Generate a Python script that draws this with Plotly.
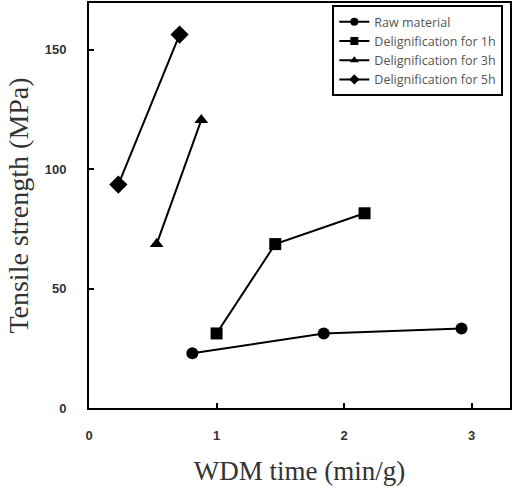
import plotly.graph_objects as go

series_names = ["Raw material", "Delignification for 1h", "Delignification for 3h", "Delignification for 5h"]
raw_x = [0.81, 1.84, 2.92]
raw_y = [22.9, 31.2, 33.3]
d1_x = [1.00, 1.46, 2.16]
d1_y = [31.2, 68.6, 81.5]
d3_x = [0.53, 0.88]
d3_y = [68.6, 120.5]
d5_x = [0.23, 0.71]
d5_y = [93.5, 156.3]
x_ticks = [0, 1, 2, 3]
y_ticks = [0, 50, 100, 150]

symbols = ["circle", "square", "triangle-up", "diamond"]
sizes = [12, 12, 12, 14]
data = [(raw_x, raw_y), (d1_x, d1_y), (d3_x, d3_y), (d5_x, d5_y)]

fig = go.Figure()
for name, (xs, ys), sym, sz in zip(series_names, data, symbols, sizes):
    fig.add_trace(go.Scatter(
        x=xs, y=ys, mode="lines+markers", name=name, showlegend=False,
        line=dict(color="black", width=2),
        marker=dict(symbol=sym, size=sz, color="black"),
    ))
# legend entries with the smaller symbols used in the reference's key
for name, sym in zip(series_names, symbols):
    fig.add_trace(go.Scatter(
        x=[None], y=[None], mode="lines+markers", name=name,
        line=dict(color="black", width=2),
        marker=dict(symbol=sym, size=8, color="black"),
    ))

fig.update_layout(
    width=526, height=491,
    margin=dict(l=89, r=16, t=1, b=83),
    paper_bgcolor="white", plot_bgcolor="white",
    showlegend=True,
    legend=dict(
        x=0.578, y=0.995, xanchor="left", yanchor="top",
        bordercolor="black", borderwidth=2, bgcolor="white",
        font=dict(family="Open Sans, Liberation Sans, sans-serif", size=12.5, color="#555"),
        itemwidth=30, tracegroupgap=0,
    ),
    xaxis=dict(
        range=[0, 3.3], tickvals=x_ticks, ticks="inside", ticklen=5, tickwidth=2,
        tickcolor="black", showline=True, linecolor="black", linewidth=2, mirror=True,
        showgrid=False, zeroline=False, ticklabelstandoff=14,
        tickfont=dict(family="Liberation Sans, Arial, sans-serif", size=13, color="#333", weight="bold"),
        title=dict(text="WDM time (min/g)", standoff=20,
                   font=dict(family="Liberation Serif, Times New Roman, serif", size=27, color="#333")),
    ),
    yaxis=dict(
        range=[0, 169.5], tickvals=y_ticks, ticks="inside", ticklen=5, tickwidth=2,
        tickcolor="black", showline=True, linecolor="black", linewidth=2, mirror=True,
        showgrid=False, zeroline=False, ticklabelstandoff=18,
        tickfont=dict(family="Liberation Sans, Arial, sans-serif", size=13, color="#333", weight="bold"),
        title=dict(text="Tensile strength (MPa)", standoff=8,
                   font=dict(family="Liberation Serif, Times New Roman, serif", size=28, color="#333")),
    ),
)

fig.write_html("out.html")
